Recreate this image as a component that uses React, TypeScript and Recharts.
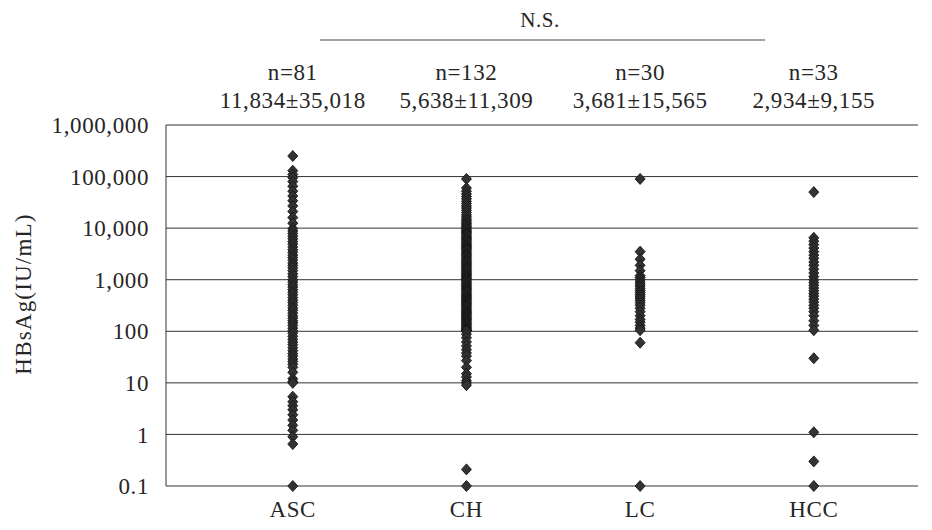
import { CartesianGrid, Customized, Label, Scatter, ScatterChart, XAxis, YAxis } from "recharts";

const categories = ["ASC", "CH", "LC", "HCC"];
const groupSizes = ["n=81", "n=132", "n=30", "n=33"];
const groupStats = ["11,834±35,018", "5,638±11,309", "3,681±15,565", "2,934±9,155"];
const yTicks = [0.1, 1, 10, 100, 1000, 10000, 100000, 1000000];

const ascValues = [
  250000,
  130000, 110000, 95000, 80000, 65000, 52000, 42000, 34000, 27000, 21000, 16000, 12500,
  9800, 8800, 7900, 7000, 6200, 5500, 4900, 4300, 3800, 3400, 3000, 2700, 2400, 2100,
  1900, 1700, 1500, 1300, 1150, 1000, 900, 800, 720, 640, 570, 510, 450, 400, 360, 320,
  285, 255, 225, 200, 180, 160, 145, 130, 115, 102,
  92, 80, 70, 62, 55, 48, 42, 37, 33, 29, 26, 23, 20, 16, 12, 10.5, 10,
  5.4, 4.3, 3.6, 3.0, 2.4, 1.9, 1.5, 1.2, 0.9, 0.65,
  0.1,
];

const chValues = [
  90000,
  60000, 52000, 46000, 41000, 37000, 33000, 30000, 27000, 24500, 22000, 20000, 18000,
  16500, 15000, 14000, 13000, 12200, 11500, 10800, 10200,
  9600, 9100, 8600, 8200, 7800, 7400, 7000, 6600, 6300, 6000, 5700, 5400, 5100, 4850,
  4600, 4400, 4200, 4000, 3800, 3600, 3400, 3200, 3050, 2900, 2750, 2600, 2450, 2300,
  2200, 2100, 2000, 1900, 1800, 1700, 1620, 1540, 1460, 1390, 1320, 1260, 1200, 1140,
  1090, 1040, 1000,
  950, 900, 860, 820, 780, 740, 700, 670, 640, 610, 580, 550, 520, 495, 470, 450, 430,
  410, 390, 370, 355, 340, 325, 310, 295, 280, 265, 250, 240, 230, 220, 210, 200, 190,
  182, 175, 168, 160, 152, 145, 138, 132, 126, 120, 115, 110, 106, 103, 101, 100,
  88, 75, 62, 52, 44, 38, 33, 27, 20, 15, 13, 11, 10, 9,
  0.21, 0.1,
];

const lcValues = [
  90000,
  3500, 2500, 1900, 1500, 1200, 1100, 1000, 900, 820, 750, 680, 620, 570, 520, 480, 440,
  400, 360, 320, 280, 240, 200, 170, 150, 130, 115, 105,
  60, 0.1,
];

const hccValues = [
  50000,
  6500, 5600, 4800, 4100, 3500, 3000, 2600, 2200, 1900, 1600, 1350, 1150,
  1000, 880, 780, 690, 610, 540, 480, 420, 370, 320, 280, 240, 200, 160, 130, 105,
  30, 1.1, 0.3, 0.1,
];

const groups = [ascValues, chValues, lcValues, hccValues];

const font = "'Liberation Serif', 'DejaVu Serif', serif";
const ink = "#262626";
const textStyle = { fontFamily: font, fill: ink, letterSpacing: 0.6 };

const Diamond = (props: any) => {
  const { cx, cy } = props;
  if (cx == null || cy == null) return null;
  return (
    <path
      d={`M${cx},${cy - 5.5}L${cx + 5},${cy}L${cx},${cy + 5.5}L${cx - 5},${cy}Z`}
      fill="#333"
      stroke="#151515"
      strokeWidth={0.9}
    />
  );
};

// category name under the axis, plus the group size / mean±SD header above the plot
const CategoryTick = (props: any) => {
  const { x, y, payload } = props;
  const i = payload.value;
  return (
    <g>
      <text x={x} y={y} dy="0.72em" textAnchor="middle" fontSize={23} {...textStyle}>
        {categories[i]}
      </text>
      <text x={x} y={y - 420} textAnchor="middle" fontSize={23} {...textStyle}>
        {groupSizes[i]}
      </text>
      <text x={x} y={y - 392} textAnchor="middle" fontSize={23} {...textStyle}>
        {groupStats[i]}
      </text>
    </g>
  );
};

const fmt = (v: number) => (v < 1 ? String(v) : v.toLocaleString("en-US"));

const SignificanceMark = () => (
  <g>
    <text x={540} y={27} textAnchor="middle" fontSize={21} {...textStyle}>
      N.S.
    </text>
    <line x1={320} x2={765} y1={40} y2={40} stroke="#444" strokeWidth={1.2} />
  </g>
);

export default function App() {
  return (
    <div style={{ position: "absolute", left: 0, top: 0, background: "#fff" }}>
      <ScatterChart
        width={932}
        height={530}
        margin={{ top: 125, right: 14, bottom: 14, left: 0 }}
        style={{ fontFamily: font }}
      >
        <CartesianGrid horizontal vertical={false} stroke="#333" strokeWidth={1} />
        <XAxis
          type="number"
          dataKey="x"
          domain={[-0.73, 3.6]}
          ticks={[0, 1, 2, 3]}
          axisLine={false}
          tickLine={false}
          tickMargin={8}
          tick={<CategoryTick />}
        />
        <YAxis
          type="number"
          dataKey="y"
          scale="log"
          domain={[0.1, 1000000]}
          ticks={yTicks}
          interval={0}
          width={166}
          axisLine={{ stroke: "#333" }}
          tickLine={false}
          tickMargin={11}
          tickFormatter={fmt}
          tick={{ fontSize: 23, ...textStyle }}
        >
          <Label
            content={() => (
              <text
                transform="translate(31,294) rotate(-90)"
                textAnchor="middle"
                fontSize={23}
                {...textStyle}
                letterSpacing={1.2}
              >
                HBsAg(IU/mL)
              </text>
            )}
          />
        </YAxis>
        {groups.map((values, i) => (
          <Scatter
            key={categories[i]}
            name={categories[i]}
            data={values.map((v) => ({ x: i, y: v }))}
            shape={<Diamond />}
            isAnimationActive={false}
          />
        ))}
        <Customized component={<SignificanceMark />} />
      </ScatterChart>
    </div>
  );
}
